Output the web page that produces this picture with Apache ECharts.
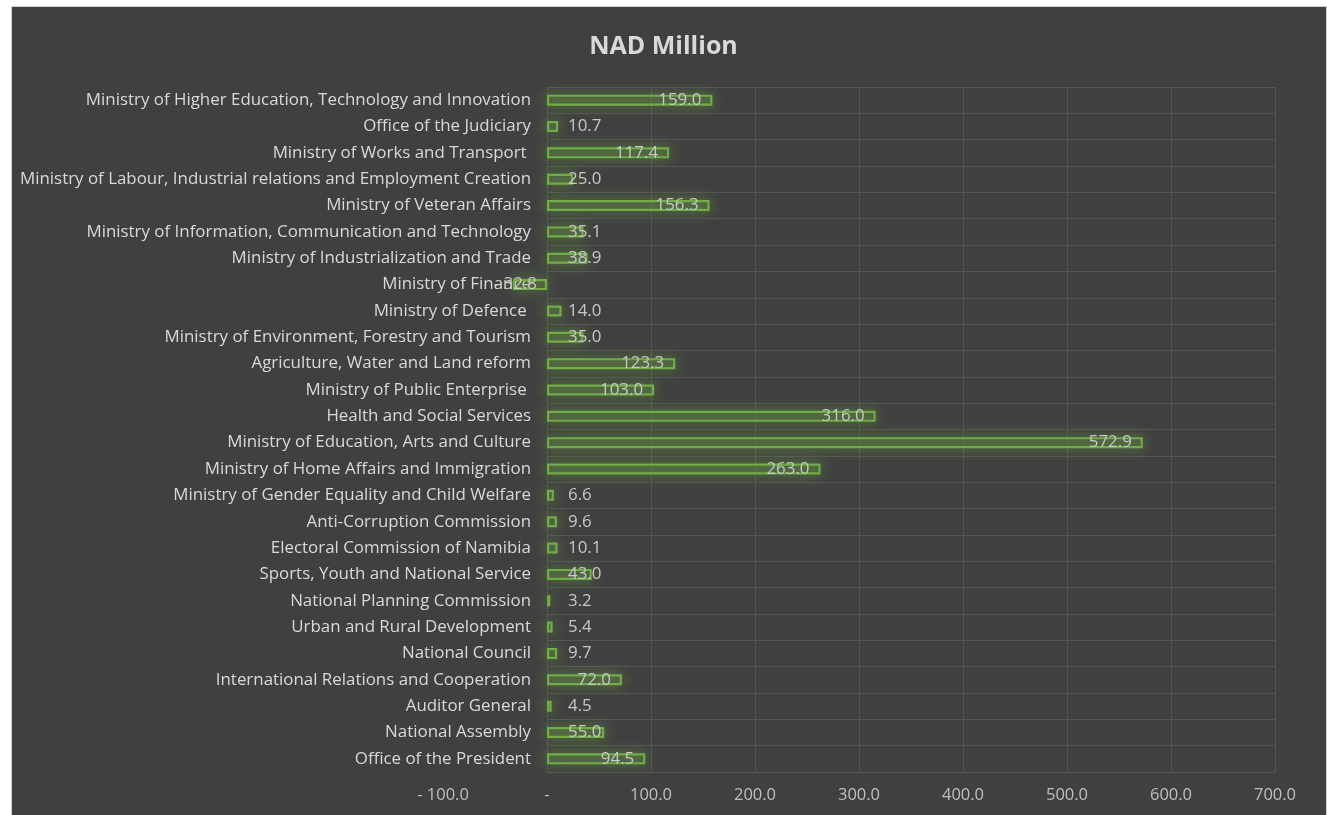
<!DOCTYPE html>
<html>
<head>
<meta charset="utf-8">
<script src="https://cdn.jsdelivr.net/npm/echarts@6/dist/echarts.min.js"></script>
<style>
  html, body { margin: 0; padding: 0; background: #ffffff; width: 1327px; height: 815px; overflow: hidden; }
  #bg { position: absolute; left: 11px; top: 6px; right: 0; bottom: 0; background: #404040;
        border-top: 1px solid #d0d0d0; border-left: 1px solid #d0d0d0; border-right: 1px solid #d0d0d0; }
  #chart { position: absolute; left: 0; top: 0; width: 1327px; height: 815px; }
</style>
</head>
<body>
<div id="bg"></div>
<div id="chart"></div>
<script>
const titleText = 'NAD Million';

const categories = [
  'Ministry of Higher Education, Technology and Innovation',
  'Office of the Judiciary',
  'Ministry of Works and Transport ',
  'Ministry of Labour, Industrial relations and Employment Creation',
  'Ministry of Veteran Affairs',
  'Ministry of Information, Communication and Technology',
  'Ministry of Industrialization and Trade',
  'Ministry of Finance',
  'Ministry of Defence ',
  'Ministry of Environment, Forestry and Tourism',
  'Agriculture, Water and Land reform',
  'Ministry of Public Enterprise ',
  'Health and Social Services',
  'Ministry of Education, Arts and Culture',
  'Ministry of Home Affairs and Immigration',
  'Ministry of Gender Equality and Child Welfare',
  'Anti-Corruption Commission',
  'Electoral Commission of Namibia',
  'Sports, Youth and National Service',
  'National Planning Commission',
  'Urban and Rural Development',
  'National Council',
  'International Relations and Cooperation',
  'Auditor General',
  'National Assembly',
  'Office of the President'
];

const values = [
  159.0, 10.7, 117.4, 25.0, 156.3, 35.1, 38.9, -32.8, 14.0, 35.0,
  123.3, 103.0, 316.0, 572.9, 263.0, 6.6, 9.6, 10.1, 43.0, 3.2,
  5.4, 9.7, 72.0, 4.5, 55.0, 94.5
];

// value-axis ticks
const axisMin = -100;
const axisZero = 0;
const axisMax = 700;
const axisStep = 100;

function fmt(v) {
  if (v === 0) return '-';
  if (v < 0) return '- ' + Math.abs(v).toFixed(1);
  return v.toFixed(1);
}

function labelFor(v) {
  if (v < 0) return { position: 'insideRight', distance: 10 };
  if (v >= 64) return { position: 'insideRight', distance: 11 };
  return { position: 'insideLeft', distance: 21 };
}

const FONT = 'Open Sans';
const chart = echarts.init(document.getElementById('chart'), null, { renderer: 'canvas' });

chart.setOption({
  backgroundColor: 'transparent',
  animation: false,
  title: {
    text: titleText,
    left: 'center',
    top: 29,
    textStyle: { color: '#d9d9d9', fontFamily: FONT, fontWeight: 'bold', fontSize: 25 }
  },
  grid: [
    { left: 547, right: 52, top: 87, bottom: 43 },
    { left: 443, width: 104, top: 87, bottom: 43 }
  ],
  xAxis: [
    {
      type: 'value', gridIndex: 0, min: axisZero, max: axisMax, interval: axisStep,
      axisLine: { show: false }, axisTick: { show: false },
      splitLine: { show: true, lineStyle: { color: '#545454', width: 1 } },
      axisLabel: { color: '#bfbfbf', fontFamily: FONT, fontSize: 16.5, margin: 15, formatter: fmt }
    },
    {
      type: 'value', gridIndex: 1, min: axisMin, max: axisZero, interval: axisStep,
      axisLine: { show: false }, axisTick: { show: false }, splitLine: { show: false },
      axisLabel: { color: '#bfbfbf', fontFamily: FONT, fontSize: 16.5, margin: 15,
        formatter: v => (v === axisZero ? '' : fmt(v)) }
    }
  ],
  yAxis: [
    {
      type: 'category', gridIndex: 0, data: categories, inverse: true,
      axisLine: { show: false }, axisTick: { show: false },
      splitLine: { show: true, lineStyle: { color: '#545454', width: 1 } },
      axisLabel: { color: '#d9d9d9', fontFamily: FONT, fontSize: 16.9, margin: 16, interval: 0 }
    },
    {
      type: 'category', gridIndex: 1, data: categories, inverse: true, show: false
    }
  ],
  series: [
    {
      type: 'bar',
      xAxisIndex: 0, yAxisIndex: 0,
      clip: false,
      barWidth: 11,
      data: values.map(v => ({ value: v, label: labelFor(v) })),
      itemStyle: {
        color: 'rgba(112,173,71,0.12)',
        borderColor: '#70ad47',
        borderWidth: 2.2,
        shadowColor: 'rgba(120,190,70,0.95)',
        shadowBlur: 14
      },
      label: {
        show: true,
        color: '#c8c8c8',
        fontFamily: FONT,
        fontSize: 16.9,
        formatter: p => fmt(p.value)
      }
    }
  ]
});
</script>
</body>
</html>
